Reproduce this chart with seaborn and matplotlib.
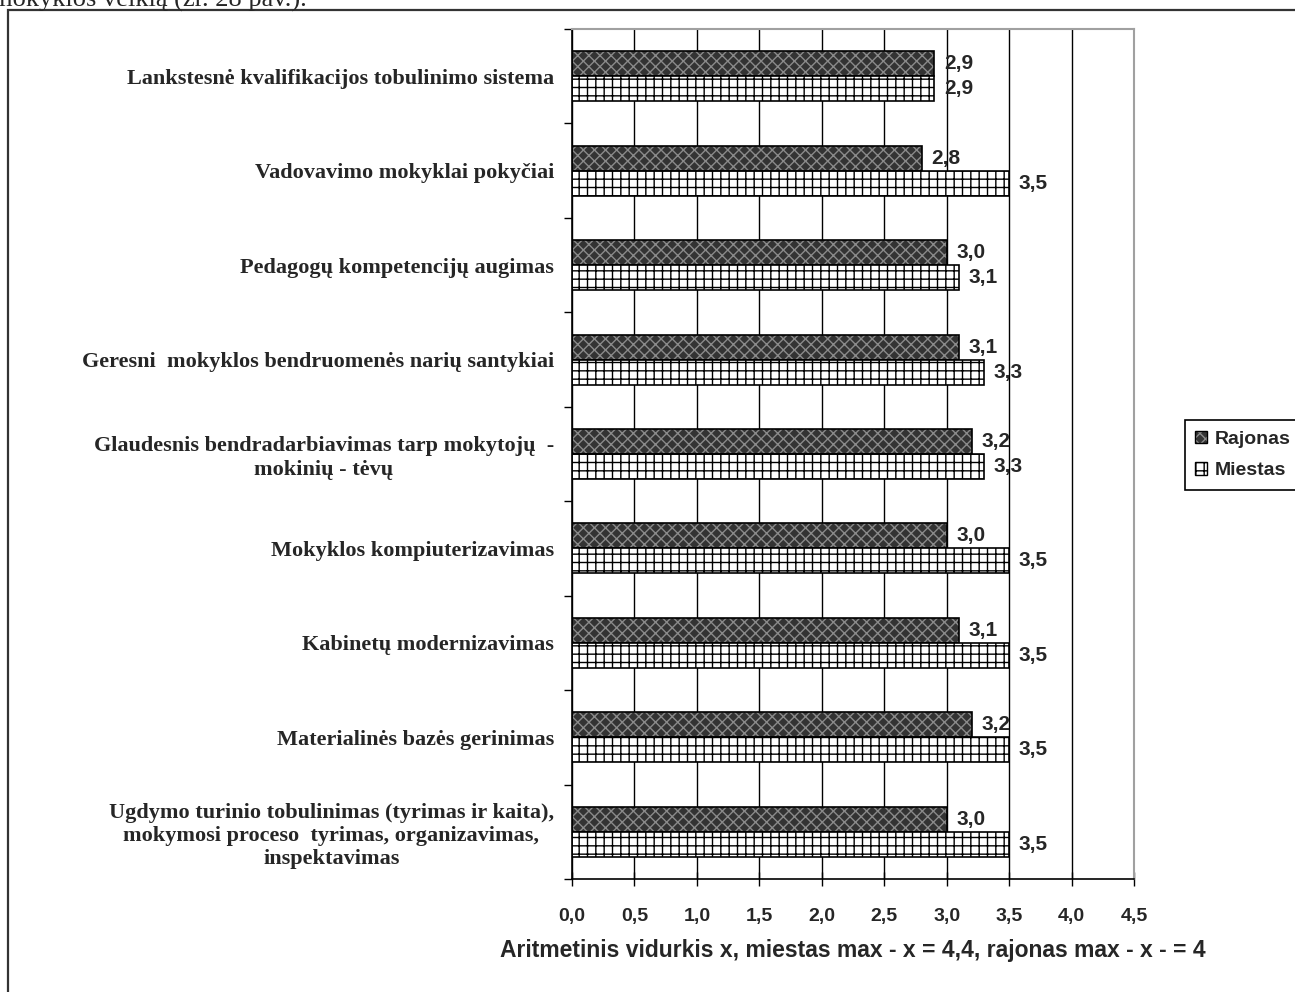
import matplotlib
matplotlib.use("Agg")
import matplotlib.pyplot as plt
import matplotlib.patches as mpatches
from matplotlib.colors import to_rgba
import pandas as pd
import seaborn as sns

categories = [
    "Lankstesnė kvalifikacijos tobulinimo sistema",
    "Vadovavimo mokyklai pokyčiai",
    "Pedagogų kompetencijų augimas",
    "Geresni  mokyklos bendruomenės narių santykiai",
    "Glaudesnis bendradarbiavimas tarp mokytojų  -\nmokinių - tėvų",
    "Mokyklos kompiuterizavimas",
    "Kabinetų modernizavimas",
    "Materialinės bazės gerinimas",
    "Ugdymo turinio tobulinimas (tyrimas ir kaita),\nmokymosi proceso  tyrimas, organizavimas,\ninspektavimas",
]
rajonas = [2.9, 2.8, 3.0, 3.1, 3.2, 3.0, 3.1, 3.2, 3.0]
miestas = [2.9, 3.5, 3.1, 3.3, 3.3, 3.5, 3.5, 3.5, 3.5]
series = ["Rajonas", "Miestas"]
xticks = [0.0, 0.5, 1.0, 1.5, 2.0, 2.5, 3.0, 3.5, 4.0, 4.5]

df = pd.DataFrame({
    "cat": categories * 2,
    "value": rajonas + miestas,
    "group": [series[0]] * len(categories) + [series[1]] * len(categories),
})

sns.set_style("white")
serif = ["Liberation Serif", "DejaVu Serif"]
sans = ["Liberation Sans", "DejaVu Sans"]

fig = plt.figure(figsize=(12.95, 9.92), dpi=100)
ax = fig.add_axes([572 / 1295, 1 - 879 / 992, (1134 - 572) / 1295, (879 - 29) / 992])

sns.barplot(
    data=df, y="cat", x="value", hue="group", orient="h",
    palette={"Rajonas": "#333333", "Miestas": "white"},
    width=0.53, edgecolor="black", linewidth=1.2, ax=ax, legend=False,
)

# dark bars get a light hatch, light bars a black one
hatches = {0: "xxx", 1: "++"}
hcolors = {0: "#8a8a8a", 1: "black"}
for i, cont in enumerate(ax.containers):
    for p in cont:
        p.set_hatch(hatches[i])
        p._hatch_color = to_rgba(hcolors[i])
    labels = [f"{v:.1f}".replace(".", ",") for v in cont.datavalues]
    ax.bar_label(cont, labels=labels, padding=7, fontsize=15,
                 fontweight="bold", family=sans)

ax.set_xlim(0, 4.5)
ax.set_ylim(len(categories) - 0.5, -0.5)
ax.set_xticks(xticks)
ax.set_xticklabels([f"{t:.1f}".replace(".", ",") for t in xticks],
                   fontsize=14, fontweight="bold", family=sans)
ax.tick_params(axis="x", direction="inout", length=10, width=1, pad=16,
               color="black", bottom=True)
ax.set_yticks(range(len(categories)))
ax.set_yticklabels(categories, fontsize=16, fontweight="bold", family=serif,
                   multialignment="center")
ax.set_yticks([i - 0.5 for i in range(len(categories) + 1)], minor=True)
ax.tick_params(axis="y", which="major", length=0, pad=13)
ax.tick_params(axis="y", which="minor", direction="out", length=6, width=1,
               color="black", left=True)
ax.xaxis.grid(True, color="black", linewidth=1)
ax.set_axisbelow(True)
ax.set_ylabel("")
ax.set_xlabel("Aritmetinis vidurkis x, miestas max - x = 4,4, rajonas max - x - = 4",
              fontsize=16.5, fontweight="bold", family=sans, labelpad=10)

for side in ["top", "right"]:
    ax.spines[side].set_color("#a0a0a0")
    ax.spines[side].set_linewidth(1.5)
for side in ["left", "bottom"]:
    ax.spines[side].set_color("black")
    ax.spines[side].set_linewidth(1.2)

handles = [
    mpatches.Patch(facecolor="#333333", edgecolor="black", label="Rajonas"),
    mpatches.Patch(facecolor="white", edgecolor="black", hatch="++", label="Miestas"),
]
leg = fig.legend(
    handles=handles, loc="center left", bbox_to_anchor=(1175 / 1295, 1 - 455 / 992),
    bbox_transform=fig.transFigure, frameon=True, fancybox=False,
    edgecolor="black", framealpha=1, handlelength=0.6, handleheight=0.6,
    handletextpad=0.4, borderpad=0.55, labelspacing=0.75,
    prop={"family": sans, "weight": "bold", "size": 14},
)
leg.get_frame().set_linewidth(1.2)
leg.legend_handles[0].set_hatch("xxx")
leg.legend_handles[0]._hatch_color = to_rgba(hcolors[0])

fig.add_artist(mpatches.Rectangle(
    (8 / 1295, -0.1), 1.2, 1 - 10 / 992 + 0.1, transform=fig.transFigure,
    fill=False, edgecolor="#333333", linewidth=1.6))
fig.text(-0.006, 1 - 7 / 992, "mokyklos veiklą (žr. 28 pav.).", family=serif,
         fontsize=19, va="baseline", ha="left")

fig.savefig("out.png", dpi=100)
